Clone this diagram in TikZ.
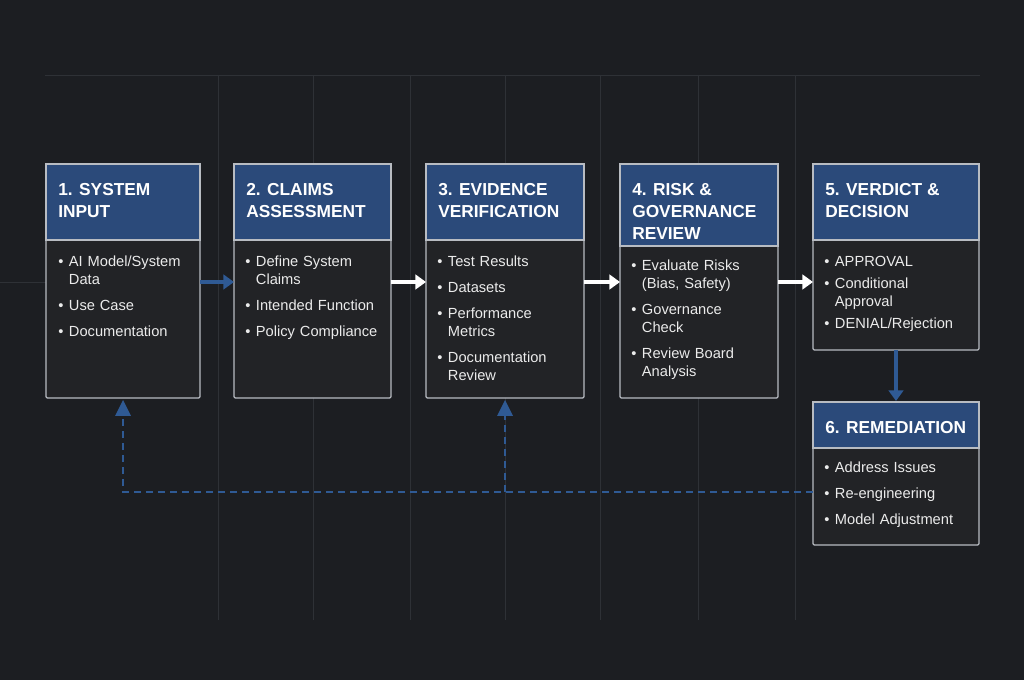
\documentclass[tikz,border=0pt]{standalone}
\usepackage{fontspec}
\setmainfont{Liberation Sans}
\usetikzlibrary{arrows.meta,calc}
\definecolor{bg}{HTML}{1C1E22}
\definecolor{grid}{HTML}{2E3136}
\definecolor{hdr}{HTML}{2B4A7A}
\definecolor{body}{HTML}{222326}
\definecolor{bord}{HTML}{B8BCC2}
\definecolor{blu}{HTML}{2F5A94}
\newcommand{\bl}{\makebox[8pt][l]{•}}
\newcommand{\ct}{\hspace*{8pt}}
\begin{document}
\begin{tikzpicture}[x=0.75pt,y=-0.75pt,
 ttl/.style={anchor=north west,text=white,font=\bfseries\fontsize{13}{16.5}\selectfont,align=left,inner sep=0pt},
 itm/.style={anchor=north west,text=white!92!black,font=\fontsize{11}{13.5}\selectfont,align=left,inner sep=0pt,text width=#1},
 hdrbox/.style={fill=hdr,draw=bord,line width=0.9pt},
 warr/.style={draw=white,line width=3pt,-{Triangle[length=8pt,width=11pt]}},
 barr/.style={draw=blu,line width=3pt,-{Triangle[length=8pt,width=11pt]}},
 dsh/.style={draw=blu,line width=1.8pt,dash pattern=on 5.5pt off 3.5pt}]
\fill[bg] (0,0) rectangle (1024,680);
\useasboundingbox (0,0) rectangle (1024,680);
\draw[grid,line width=0.7pt] (45,75) -- (980,75);
\draw[grid,line width=0.6pt] (0,282) -- (46,282);
\foreach \x in {218,313,410,505,600,698,795} \draw[grid,line width=0.7pt] (\x,75) -- (\x,620);
% boxes
\newcommand{\mybox}[6]{%
 \fill[body] (#1,#2) rectangle (#3,#4);
 \draw[hdrbox] (#1,#2) rectangle (#3,#5);
 \draw[bord,line width=0.9pt,rounded corners=1pt] (#1,#2) rectangle (#3,#4);
 \node[ttl] at (#1+12,#2+19) {#6};}
\mybox{46}{164}{200}{398}{240}{1. SYSTEM\\INPUT}
\mybox{234}{164}{391}{398}{240}{2. CLAIMS\\ASSESSMENT}
\mybox{426}{164}{584}{398}{240}{3. EVIDENCE\\VERIFICATION}
\mybox{620}{164}{778}{398}{246}{4. RISK \&\\GOVERNANCE\\REVIEW}
\mybox{813}{164}{979}{350}{240}{5. VERDICT \&\\DECISION}
\mybox{813}{402}{979}{545}{448}{6. REMEDIATION}
% named anchors
\coordinate (b1r) at (200,282); \coordinate (b2l) at (234,282);
\coordinate (b2r) at (391,282); \coordinate (b3l) at (426,282);
\coordinate (b3r) at (584,282); \coordinate (b4l) at (620,282);
\coordinate (b4r) at (778,282); \coordinate (b5l) at (813,282);
\coordinate (b5b) at (896,350); \coordinate (b6t) at (896,401);
\coordinate (b6l) at (813,492); \coordinate (b1b) at (123,400); \coordinate (b3b) at (505,400);
\coordinate (c1) at (123,492); \coordinate (c3) at (505,492);
\draw[barr] (b1r) -- (b2l);
\draw[warr] (b2r) -- (b3l);
\draw[warr] (b3r) -- (b4l);
\draw[warr] (b4r) -- (b5l);
\draw[barr] (b5b) -- (b6t);
\draw[dsh] (b6l) -- (c1) -- ($(b1b)+(0,14)$);
\draw[dsh] (c3) -- ($(b3b)+(0,14)$);
\fill[blu] (b1b) -- ++(-8,16) -- ++(16,0) -- cycle;
\fill[blu] (b3b) -- ++(-8,16) -- ++(16,0) -- cycle;
% items
\node[itm=140] at (58,256) {\bl AI Model/System\\\ct Data\\[6pt]\bl Use Case\\[6pt]\bl Documentation};
\node[itm=145] at (245,256) {\bl Define System\\\ct Claims\\[6pt]\bl Intended Function\\[6pt]\bl Policy Compliance};
\node[itm=145] at (437,256) {\bl Test Results\\[6pt]\bl Datasets\\[6pt]\bl Performance\\\ct Metrics\\[6pt]\bl Documentation\\\ct Review};
\node[itm=145] at (631,260) {\bl Evaluate Risks\\\ct (Bias, Safety)\\[6pt]\bl Governance\\\ct Check\\[6pt]\bl Review Board\\\ct Analysis};
\node[itm=150] at (824,256) {\bl APPROVAL\\[3pt]\bl Conditional\\\ct Approval\\[3pt]\bl DENIAL/Rejection};
\node[itm=150] at (824,462) {\bl Address Issues\\[6pt]\bl Re-engineering\\[6pt]\bl Model Adjustment};
\end{tikzpicture}
\end{document}
